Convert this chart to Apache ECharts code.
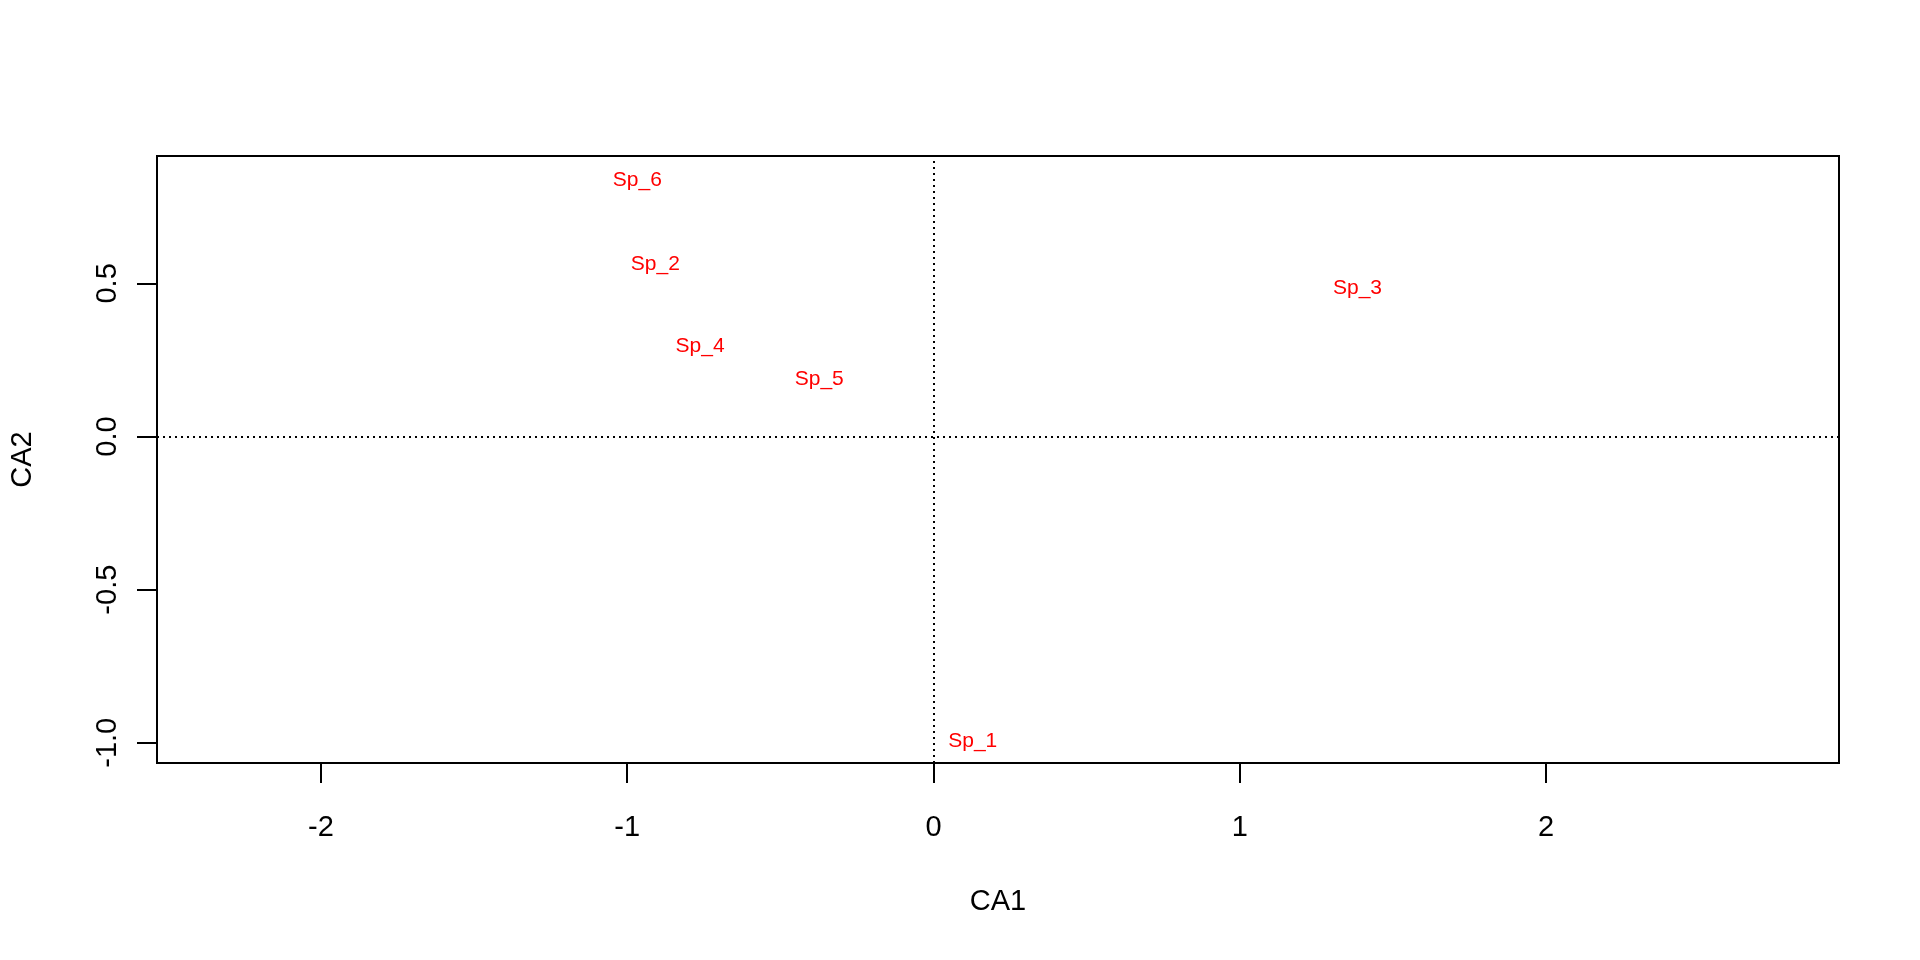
<!DOCTYPE html>
<html>
<head>
<meta charset="utf-8">
<title>CA species plot</title>
<script src="https://cdn.jsdelivr.net/npm/echarts@6.0.0/dist/echarts.min.js"></script>
<style>
  html, body { margin: 0; padding: 0; background: #fff; }
  #chart { width: 1920px; height: 960px; }
</style>
</head>
<body>
<div id="chart"></div>
<script>
// species scores
const species = ['Sp_1', 'Sp_2', 'Sp_3', 'Sp_4', 'Sp_5', 'Sp_6'];
const ca1 = [0.128, -0.908, 1.384, -0.762, -0.373, -0.967];
const ca2 = [-0.996, 0.563, 0.484, 0.296, 0.187, 0.838];

const xTicks = [-2, -1, 0, 1, 2];
const yTicks = [-1, -0.5, 0, 0.5];

const FONT = '"Liberation Sans", Arial, sans-serif';

const chart = echarts.init(document.getElementById('chart'));

function axisCommon(ticks) {
  return {
    type: 'value',
    axisLine: { show: false, onZero: false },
    splitLine: { show: false },
    axisTick: {
      show: true, inside: false, length: 20,
      customValues: ticks,
      lineStyle: { color: '#000', width: 2 },
    },
    nameTextStyle: { color: '#000', fontSize: 29, fontFamily: FONT },
  };
}

chart.setOption({
  animation: false,
  backgroundColor: '#fff',
  grid: {
    left: 157, right: 81, top: 156, bottom: 197,
    show: true, borderColor: '#000', borderWidth: 2, backgroundColor: 'transparent',
  },
  xAxis: Object.assign(axisCommon(xTicks), {
    min: -2.535, max: 2.956,
    name: 'CA1', nameLocation: 'middle', nameGap: 124,
    axisLabel: {
      customValues: xTicks, margin: 50,
      color: '#000', fontSize: 29, fontFamily: FONT,
      formatter: (v) => String(v),
    },
  }),
  yAxis: Object.assign(axisCommon(yTicks), {
    min: -1.066, max: 0.916,
    name: 'CA2', nameLocation: 'middle', nameGap: 120,
    axisLabel: {
      customValues: yTicks, margin: 35, rotate: 90,
      color: '#000', fontSize: 29, fontFamily: FONT,
      formatter: (v) => v.toFixed(1),
    },
  }),
  series: [{
    type: 'scatter',
    symbolSize: 0,
    itemStyle: { opacity: 1 },
    data: species.map((name, i) => ({ name, value: [ca1[i], ca2[i]] })),
    label: {
      show: true, position: 'inside',
      formatter: (p) => p.name,
      color: '#ff0000', fontSize: 21, fontFamily: FONT,
    },
    markLine: {
      silent: true, symbol: 'none', label: { show: false },
      lineStyle: { color: '#000', width: 2, type: [2, 4], opacity: 1 },
      data: [{ xAxis: 0 }, { yAxis: 0 }],
    },
  }],
});
</script>
</body>
</html>
